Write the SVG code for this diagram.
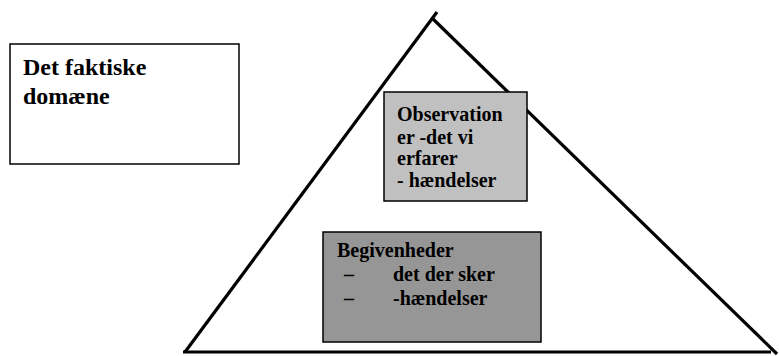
<svg xmlns="http://www.w3.org/2000/svg" width="779" height="356" viewBox="0 0 779 356">
<style>
.t{font-family:"Liberation Serif","Times New Roman",serif;font-weight:bold;fill:#000}
.box{stroke:#000;stroke-width:1.5}
.ln{stroke:#000;stroke-width:3.2;fill:none;stroke-linecap:butt}
</style>
<rect width="779" height="356" fill="#fff"/>
<g id="connectors">
<line class="ln" x1="185" y1="352" x2="437" y2="12"/>
<line class="ln" x1="432" y1="18" x2="777" y2="354"/>
<line class="ln" x1="183" y1="352" x2="771" y2="352"/>
</g>
<g id="domain">
<rect class="box" x="10" y="44" width="229" height="120" fill="#fff"/>
<text class="t" x="23" y="75" font-size="24">Det faktiske</text>
<text class="t" x="23" y="104" font-size="24">domæne</text>
</g>
<g id="observationer">
<rect class="box" x="384" y="92" width="143" height="109" fill="#c0c0c0"/>
<text class="t" font-size="20"><tspan x="397" y="121">Observation</tspan><tspan x="397" y="144">er -det vi</tspan><tspan x="397" y="165">erfarer</tspan><tspan x="397" y="187">- hændelser</tspan></text>
</g>
<g id="begivenheder">
<rect class="box" x="323" y="232" width="218" height="110" fill="#969696"/>
<text class="t" font-size="20"><tspan x="337" y="257">Begivenheder</tspan><tspan x="344" y="281">–</tspan><tspan x="393" y="281">det der sker</tspan><tspan x="344" y="305">–</tspan><tspan x="393" y="305">-hændelser</tspan></text>
</g>
</svg>
